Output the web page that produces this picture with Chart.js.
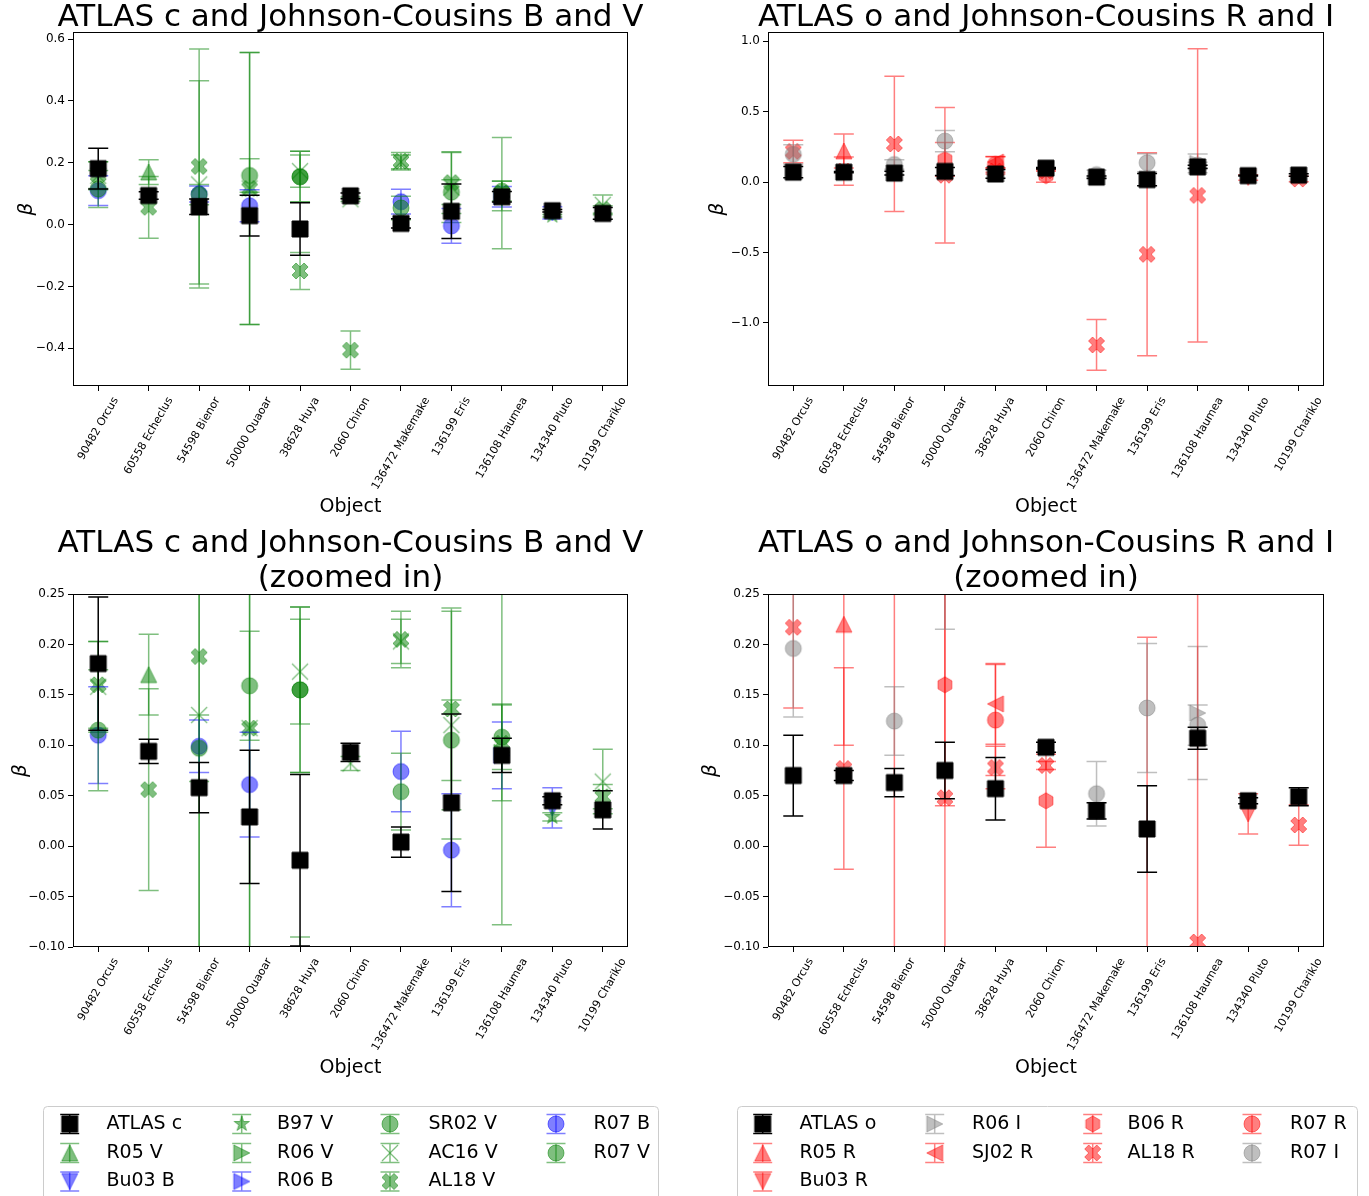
<!DOCTYPE html>
<html>
<head>
<meta charset="utf-8">
<title>Phase coefficients: ATLAS vs Johnson-Cousins</title>
<script src="https://cdn.jsdelivr.net/npm/chart.js@4.4.0/dist/chart.umd.min.js"></script>
<style>
  html, body { margin: 0; padding: 0; background: #fff; }
  #fig { position: relative; width: 1369px; height: 1196px; overflow: hidden; }
  #fig canvas { position: absolute; }
</style>
</head>
<body>
<div id="fig">
  <canvas id="cTL" width="684" height="525" style="left:0;top:0"></canvas>
  <canvas id="cTR" width="685" height="525" style="left:684px;top:0"></canvas>
  <canvas id="cBL" width="684" height="671" style="left:0;top:525px"></canvas>
  <canvas id="cBR" width="685" height="671" style="left:684px;top:525px"></canvas>
</div>
<script>
// categories
const objects = ['90482 Orcus', '60558 Echeclus', '54598 Bienor', '50000 Quaoar', '38628 Huya',
  '2060 Chiron', '136472 Makemake', '136199 Eris', '136108 Haumea', '134340 Pluto', '10199 Chariklo'];
const _ = null;

// ATLAS c + B / V literature phase coefficients (beta) and errors
const atlasC    = [0.181, 0.094, 0.058, 0.029, -0.014, 0.093, 0.004, 0.043, 0.090, 0.045, 0.036];
const atlasCErr = [0.066, 0.012, 0.025, 0.066, 0.085, 0.009, 0.015, 0.088, 0.017, 0.004, 0.019];
const r05V      = [_, 0.170, _, _, _, _, _, _, _, _, _];
const r05VErr   = [_, 0.040, _, _, _, _, _, _, _, _, _];
const bu03B     = [_, _, _, _, _, _, _, _, _, 0.038, _];
const bu03BErr  = [_, _, _, _, _, _, _, _, _, 0.020, _];
const b97V      = [_, _, _, _, _, _, _, _, _, 0.029, _];
const b97VErr   = [_, _, _, _, _, _, _, _, _, 0.004, _];
const r06V      = [_, _, _, _, _, _, _, _, 0.093, _, _];
const r06VErr   = [_, _, _, _, _, _, _, _, 0.048, _, _];
const r06B      = [_, _, _, _, _, _, _, _, 0.090, _, _];
const r06BErr   = [_, _, _, _, _, _, _, _, 0.033, _, _];
const sr02V     = [_, _, _, _, 0.155, _, _, _, _, _, _];
const sr02VErr  = [_, _, _, _, 0.082, _, _, _, _, _, _];
const ac16V     = [0.158, _, 0.130, 0.117, 0.173, 0.082, 0.203, 0.120, _, _, 0.064];
const ac16VErr  = [0.045, _, 0.335, 0.440, 0.052, 0.007, 0.022, 0.113, _, _, 0.032];
const al18V     = [0.160, 0.056, 0.188, 0.117, -0.150, -0.406, 0.205, 0.136, 0.102, _, 0.049];
const al18VErr  = [0.043, 0.100, 0.380, 0.440, 0.060, 0.062, 0.028, 0.100, 0.180, _, 0.012];
const r07B      = [0.110, _, 0.099, 0.061, _, _, 0.074, -0.004, _, _, _];
const r07BErr   = [0.048, _, 0.026, 0.052, _, _, 0.040, 0.056, _, _, _];
const r07V      = [0.115, _, 0.097, 0.159, 0.155, _, 0.054, 0.105, 0.108, _, _];
const r07VErr   = [0.060, _, 0.033, 0.054, 0.082, _, 0.038, 0.040, 0.032, _, _];

// ATLAS o + R / I literature
const atlasO    = [0.070, 0.070, 0.063, 0.075, 0.057, 0.098, 0.035, 0.017, 0.107, 0.045, 0.049];
const atlasOErr = [0.040, 0.005, 0.014, 0.028, 0.031, 0.005, 0.008, 0.043, 0.011, 0.003, 0.009];
const r05R      = [_, 0.220, _, _, _, _, _, _, _, _, _];
const r05RErr   = [_, 0.120, _, _, _, _, _, _, _, _, _];
const bu03R     = [_, _, _, _, _, _, _, _, _, 0.032, _];
const bu03RErr  = [_, _, _, _, _, _, _, _, _, 0.020, _];
const r06I      = [_, _, _, _, _, _, _, _, 0.132, _, _];
const r06IErr   = [_, _, _, _, _, _, _, _, 0.066, _, _];
const sj02R     = [_, _, _, _, 0.141, _, _, _, _, _, _];
const sj02RErr  = [_, _, _, _, 0.040, _, _, _, _, _, _];
const b06R      = [_, _, _, 0.160, _, 0.045, _, _, _, _, _];
const b06RErr   = [_, _, _, 0.120, _, 0.046, _, _, _, _, _];
const al18R     = [0.217, 0.077, 0.270, 0.048, 0.078, 0.080, -1.156, -0.513, -0.095, _, 0.021];
const al18RErr  = [0.080, 0.100, 0.480, 0.480, 0.021, 0.004, 0.180, 0.720, 1.040, _, 0.020];
const r07R      = [_, _, _, _, 0.125, _, _, _, _, _, _];
const r07RErr   = [_, _, _, _, 0.055, _, _, _, _, _, _];
const r07I      = [0.196, _, 0.124, 0.290, _, _, 0.052, 0.137, 0.120, _, _];
const r07IErr   = [0.068, _, 0.034, 0.075, _, _, 0.032, 0.064, 0.020, _, _];

// y tick labels
const ticksBig = [-0.4, -0.2, 0.0, 0.2, 0.4, 0.6];
const ticksBigR = [-1.0, -0.5, 0.0, 0.5, 1.0];
const ticksZoom = [-0.10, -0.05, 0.00, 0.05, 0.10, 0.15, 0.20, 0.25];

const FONT = '"DejaVu Sans", sans-serif';
const MS = 16;   // marker size
const CAP = 10;  // half width of error caps
const K = '#000000', G = 'rgba(0,128,0,0.5)', B = 'rgba(0,0,255,0.5)',
      R = 'rgba(255,0,0,0.5)', GR = 'rgba(128,128,128,0.5)';

const seriesBV = [
  { label: 'ATLAS c', y: atlasC, err: atlasCErr, marker: 's', color: K },
  { label: 'R05 V', y: r05V, err: r05VErr, marker: '^', color: G },
  { label: 'Bu03 B', y: bu03B, err: bu03BErr, marker: 'v', color: B },
  { label: 'B97 V', y: b97V, err: b97VErr, marker: '*', color: G },
  { label: 'R06 V', y: r06V, err: r06VErr, marker: '>', color: G },
  { label: 'R06 B', y: r06B, err: r06BErr, marker: '>', color: B },
  { label: 'SR02 V', y: sr02V, err: sr02VErr, marker: 'o', color: G },
  { label: 'AC16 V', y: ac16V, err: ac16VErr, marker: 'x', color: G },
  { label: 'AL18 V', y: al18V, err: al18VErr, marker: 'X', color: G },
  { label: 'R07 B', y: r07B, err: r07BErr, marker: 'o', color: B },
  { label: 'R07 V', y: r07V, err: r07VErr, marker: 'o', color: G }
];
const seriesRI = [
  { label: 'ATLAS o', y: atlasO, err: atlasOErr, marker: 's', color: K },
  { label: 'R05 R', y: r05R, err: r05RErr, marker: '^', color: R },
  { label: 'Bu03 R', y: bu03R, err: bu03RErr, marker: 'v', color: R },
  { label: 'R06 I', y: r06I, err: r06IErr, marker: '>', color: GR },
  { label: 'SJ02 R', y: sj02R, err: sj02RErr, marker: '<', color: R },
  { label: 'B06 R', y: b06R, err: b06RErr, marker: 'h', color: R },
  { label: 'AL18 R', y: al18R, err: al18RErr, marker: 'X', color: R },
  { label: 'R07 R', y: r07R, err: r07RErr, marker: 'o', color: R },
  { label: 'R07 I', y: r07I, err: r07IErr, marker: 'o', color: GR }
];

// matplotlib-like marker shapes
function markerPath(c, m, s) {
  const r = s / 2;
  c.beginPath();
  if (m === 's') c.rect(-r, -r, s, s);
  else if (m === 'o') c.arc(0, 0, r, 0, Math.PI * 2);
  else if (m === '^') { c.moveTo(0, -r); c.lineTo(r, r); c.lineTo(-r, r); c.closePath(); }
  else if (m === 'v') { c.moveTo(0, r); c.lineTo(r, -r); c.lineTo(-r, -r); c.closePath(); }
  else if (m === '>') { c.moveTo(r, 0); c.lineTo(-r, r); c.lineTo(-r, -r); c.closePath(); }
  else if (m === '<') { c.moveTo(-r, 0); c.lineTo(r, r); c.lineTo(r, -r); c.closePath(); }
  else if (m === '*' || m === 'h') {
    const n = m === '*' ? 10 : 6;
    for (let k = 0; k < n; k++) {
      const a = -Math.PI / 2 + k * 2 * Math.PI / n;
      const rr = (m === '*' && k % 2) ? r * 0.381966 : r;
      if (k) c.lineTo(rr * Math.cos(a), rr * Math.sin(a)); else c.moveTo(rr * Math.cos(a), rr * Math.sin(a));
    }
    c.closePath();
  } else if (m === 'X') {
    const pts = [[-1, -2], [0, -1], [1, -2], [2, -1], [1, 0], [2, 1], [1, 2], [0, 1], [-1, 2], [-2, 1], [-1, 0], [-2, -1]];
    pts.forEach((p, k) => k ? c.lineTo(p[0] * s / 4, p[1] * s / 4) : c.moveTo(p[0] * s / 4, p[1] * s / 4));
    c.closePath();
  } else if (m === 'x') { c.moveTo(-r, -r); c.lineTo(r, r); c.moveTo(r, -r); c.lineTo(-r, r); }
}

function markerImage(m, color) {
  const n = MS + 4;
  const cv = document.createElement('canvas');
  cv.width = n; cv.height = n;
  const c = cv.getContext('2d');
  c.translate(n / 2, n / 2);
  markerPath(c, m, MS);
  c.strokeStyle = color;
  if (m === 'x') { c.lineWidth = 1.3; c.stroke(); return cv; }
  c.fillStyle = color;
  c.fill();
  c.lineWidth = 1;
  c.stroke();
  return cv;
}

function makeDatasets(series) {
  return series.map((s, i) => {
    const pts = [], errs = [];
    s.y.forEach((v, k) => {
      if (v !== null) { pts.push({ x: k, y: v }); errs.push(s.err[k]); }
    });
    return {
      label: s.label,
      data: pts,
      errors: errs,
      errorColor: s.color,
      pointStyle: markerImage(s.marker, s.color),
      pointRadius: 8,
      pointHoverRadius: 8,
      showLine: false,
      order: i === 0 ? 0 : 100 - i
    };
  });
}

// error bars under each dataset's markers
const errorBars = {
  id: 'errorBars',
  beforeDatasetDraw(chart, args) {
    const ds = chart.data.datasets[args.index];
    if (!ds.errors) return;
    const { ctx, chartArea: a } = chart;
    const xs = chart.scales.x, ys = chart.scales.y;
    ctx.save();
    ctx.beginPath();
    ctx.rect(a.left, a.top, a.right - a.left, a.bottom - a.top);
    ctx.clip();
    ctx.strokeStyle = ds.errorColor;
    ctx.lineWidth = 1.5;
    ds.data.forEach((p, i) => {
      const e = ds.errors[i];
      if (e === null) return;
      const x = xs.getPixelForValue(p.x);
      const y1 = ys.getPixelForValue(p.y + e), y2 = ys.getPixelForValue(p.y - e);
      ctx.beginPath();
      ctx.moveTo(x, y1); ctx.lineTo(x, y2);
      ctx.moveTo(x - CAP, y1); ctx.lineTo(x + CAP, y1);
      ctx.moveTo(x - CAP, y2); ctx.lineTo(x + CAP, y2);
      ctx.stroke();
    });
    ctx.restore();
  }
};

// axes frame, panel title and rotated object names (centred like matplotlib)
const frameAndLabels = {
  id: 'frameAndLabels',
  afterDatasetsDraw(chart) {
    const { ctx, chartArea: a } = chart;
    ctx.save();
    ctx.strokeStyle = '#000';
    ctx.lineWidth = 1;
    ctx.strokeRect(Math.round(a.left) + 0.5, Math.round(a.top) + 0.5,
      Math.round(a.right - a.left) - 1, Math.round(a.bottom - a.top) - 1);
    ctx.restore();
  },
  afterDraw(chart, args, o) {
    const { ctx, chartArea: a } = chart;
    const xs = chart.scales.x;
    ctx.save();
    ctx.fillStyle = '#000';
    ctx.textAlign = 'center';
    ctx.textBaseline = 'middle';
    // title
    ctx.font = '31px ' + FONT;
    o.title.forEach((t, i) => ctx.fillText(t, (a.left + a.right) / 2, o.titleY[i]));
    // x tick labels
    const fs = 11, ang = Math.PI / 3;
    ctx.font = fs + 'px ' + FONT;
    const top = a.bottom + 9;
    objects.forEach((lab, i) => {
      const w = ctx.measureText(lab).width, h = fs * 1.17;
      const H = w * Math.sin(ang) + h * Math.cos(ang);
      ctx.save();
      ctx.translate(xs.getPixelForValue(i), top + H / 2);
      ctx.rotate(-ang);
      ctx.fillText(lab, 0, 0);
      ctx.restore();
    });
    ctx.restore();
  }
};

// figure legend (column-major, 4 columns, errorbar handles)
const figLegend = {
  id: 'figLegend',
  afterDraw(chart, args, o) {
    if (!o || !o.markX) return;
    const c = chart.ctx;
    const sets = chart.data.datasets;
    c.save();
    c.beginPath();
    c.roundRect(o.box[0] + 0.5, o.box[1] + 0.5, o.box[2], o.box[3], 4);
    c.fillStyle = 'rgba(255,255,255,0.8)';
    c.fill();
    c.strokeStyle = '#cccccc';
    c.lineWidth = 1;
    c.stroke();
    const ncol = 4, base = Math.floor(sets.length / ncol), large = sets.length % ncol;
    let k = 0;
    c.font = '19px ' + FONT;
    c.textBaseline = 'middle';
    c.textAlign = 'left';
    for (let col = 0; col < ncol; col++) {
      const rows = base + (col < large ? 1 : 0);
      for (let row = 0; row < rows && k < sets.length; row++, k++) {
        const ds = sets[k];
        const mx = o.markX[col], y = o.rowY[row], tx = o.textX[col];
        c.strokeStyle = ds.errorColor;
        c.lineWidth = 1.5;
        c.beginPath();
        c.moveTo(mx, y - 9.5); c.lineTo(mx, y + 9.5);
        c.moveTo(mx - 9.5, y - 9.5); c.lineTo(mx + 9.5, y - 9.5);
        c.moveTo(mx - 9.5, y + 9.5); c.lineTo(mx + 9.5, y + 9.5);
        c.stroke();
        const img = ds.pointStyle;
        c.drawImage(img, mx - img.width / 2, y - img.height / 2);
        c.fillStyle = '#000';
        c.fillText(ds.label, tx, y);
      }
    }
    c.restore();
  }
};

function fmt(dec) {
  return v => (v < -1e-9 ? '\u2212' : '') + Math.abs(v).toFixed(dec);
}

function makeChart(id, cfg) {
  return new Chart(document.getElementById(id), {
    type: 'scatter',
    data: { datasets: makeDatasets(cfg.series) },
    plugins: [errorBars, frameAndLabels, figLegend],
    options: {
      responsive: false,
      animation: false,
      events: [],
      layout: { padding: cfg.padding },
      plugins: {
        legend: { display: false },
        tooltip: { enabled: false },
        title: { display: false },
        frameAndLabels: { title: cfg.title, titleY: cfg.titleY },
        figLegend: cfg.legend || false
      },
      scales: {
        x: {
          type: 'linear', min: -0.5, max: 10.5,
          afterBuildTicks: s => { s.ticks = objects.map((n, i) => ({ value: i })); },
          afterFit: s => { s.height = cfg.xHeight; },
          ticks: { display: false },
          grid: { drawOnChartArea: false, drawTicks: true, tickLength: 5, color: '#000' },
          border: { display: false },
          title: {
            display: true, text: 'Object', color: '#000',
            font: { family: FONT, size: 19 }, padding: { top: 0, bottom: cfg.xTitlePad }
          }
        },
        y: {
          type: 'linear', min: cfg.yMin, max: cfg.yMax,
          afterBuildTicks: s => { s.ticks = cfg.yTicks.map(v => ({ value: v })); },
          afterFit: s => { s.width = cfg.yWidth; },
          ticks: { callback: fmt(cfg.dec), color: '#000', padding: 3, font: { family: FONT, size: 12 } },
          grid: { drawOnChartArea: false, drawTicks: true, tickLength: 5, color: '#000' },
          border: { display: false },
          title: {
            display: true, text: '\u03B2', color: '#000',
            font: { family: FONT, size: 20, style: 'italic' }, padding: { top: cfg.yTitlePad, bottom: 0 }
          }
        }
      }
    }
  });
}

makeChart('cTL', {
  series: seriesBV, title: ['ATLAS c and Johnson-Cousins B and V'], titleY: [18],
  padding: { left: 0, right: 56, top: 32, bottom: 0 },
  yWidth: 73, xHeight: 139, xTitlePad: 6.6, yTitlePad: 15,
  yMin: -0.522, yMax: 0.623, yTicks: ticksBig, dec: 1
});
makeChart('cTR', {
  series: seriesRI, title: ['ATLAS o and Johnson-Cousins R and I'], titleY: [18],
  padding: { left: 0, right: 45, top: 32, bottom: 0 },
  yWidth: 84, xHeight: 139, xTitlePad: 6.6, yTitlePad: 22,
  yMin: -1.447, yMax: 1.064, yTicks: ticksBigR, dec: 1
});
makeChart('cBL', {
  series: seriesBV, title: ['ATLAS c and Johnson-Cousins B and V', '(zoomed in)'], titleY: [19, 54],
  padding: { left: 0, right: 56, top: 69, bottom: 96 },
  yWidth: 73, xHeight: 153, xTitlePad: 20.6, yTitlePad: 9,
  yMin: -0.10, yMax: 0.25, yTicks: ticksZoom, dec: 2,
  legend: { box: [43, 581, 615, 200], markX: [69.7, 241.7, 390, 556], textX: [106.4, 277, 428.5, 593.5], rowY: [599, 628, 656.5] }
});
makeChart('cBR', {
  series: seriesRI, title: ['ATLAS o and Johnson-Cousins R and I', '(zoomed in)'], titleY: [19, 54],
  padding: { left: 0, right: 45, top: 69, bottom: 96 },
  yWidth: 84, xHeight: 153, xTitlePad: 20.6, yTitlePad: 15,
  yMin: -0.10, yMax: 0.25, yTicks: ticksZoom, dec: 2,
  legend: { box: [53, 581, 620, 200], markX: [78.7, 250.7, 408.7, 568], textX: [115.4, 288, 443.6, 606], rowY: [599, 628, 656.5] }
});
</script>
</body>
</html>
